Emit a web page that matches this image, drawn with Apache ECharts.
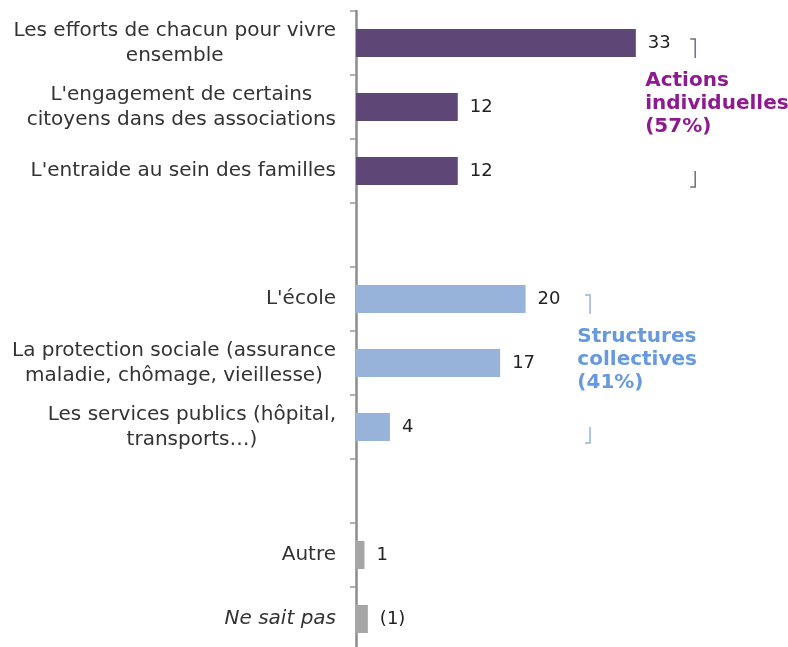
<!DOCTYPE html>
<html>
<head>
<meta charset="utf-8">
<script src="https://cdn.jsdelivr.net/npm/echarts@6/dist/echarts.min.js"></script>
<style>
  html, body { margin: 0; padding: 0; background: #fff; }
  #chart { width: 788px; height: 647px; }
</style>
</head>
<body>
<div id="chart"></div>
<script>
// categories, top to bottom ('' = empty row between groups)
var categories = [
    "Les efforts de chacun pour vivre\nensemble",
    "L'engagement de certains\ncitoyens dans des associations",
    "L'entraide au sein des familles",
    "",
    "L'école",
    "La protection sociale (assurance\nmaladie, chômage, vieillesse)",
    "Les services publics (hôpital,\ntransports…)",
    "",
    "Autre",
    "Ne sait pas"
];
var values = [33, 12, 12, null, 20, 17, 4, null, 1, 1.4];
var valueLabels = ['33', '12', '12', '', '20', '17', '4', '', '1', '(1)'];
var groupOf = ['indiv', 'indiv', 'indiv', null, 'coll', 'coll', 'coll', null, 'other', 'other'];

var barColors = { indiv: '#5e4677', coll: '#97b3d9', other: '#a6a6a6' };

// accolades de droite
var groups = [
    { text: 'Actions\nindividuelles\n(57%)', color: '#8e1b8e', bracket: '#75688a', first: 0, last: 2, xText: 34.1, xBracket: 40 },
    { text: 'Structures\ncollectives\n(41%)', color: '#6699dd', bracket: '#9ab4d8', first: 4, last: 6, xText: 26.1, xBracket: 27.6 }
];

var myChart = echarts.init(document.getElementById('chart'));
var FONT = 'DejaVu Sans';

var option = {
    animation: false,
    grid: { left: 356, top: 11, width: 424, height: 640, outerBoundsMode: 'none', containLabel: false },
    xAxis: { type: 'value', min: 0, max: 50, show: false },
    yAxis: {
        type: 'category',
        inverse: true,
        data: categories,
        axisLine: { lineStyle: { color: '#8c8c8c', width: 2.5 } },
        axisTick: { show: true, length: 6, interval: 0, lineStyle: { color: '#999', width: 1.5 } },
        axisLabel: {
            interval: 0,
            align: 'right',
            margin: 20,
            formatter: function (v) {
                if (!v) return '';
                var st = v === 'Ne sait pas' ? 'i' : 'c';
                return v.split('\n').map(function (l) { return '{' + st + '|' + l + '}'; }).join('\n');
            },
            rich: {
                c: { align: 'center', fontFamily: FONT, fontSize: 20, lineHeight: 25, color: '#333' },
                i: { align: 'center', fontFamily: FONT, fontSize: 20, lineHeight: 25, color: '#333', fontStyle: 'italic' }
            }
        }
    },
    series: [{
        type: 'bar',
        barWidth: 28,
        data: values.map(function (v, i) {
            return { value: v, itemStyle: { color: groupOf[i] ? barColors[groupOf[i]] : '#fff' } };
        }),
        label: {
            show: true,
            position: 'right',
            distance: 12,
            fontFamily: FONT,
            fontSize: 18,
            color: '#222',
            formatter: function (p) { return valueLabels[p.dataIndex]; }
        }
    }]
};
myChart.setOption(option);

// crochets + textes des groupes
function drawGroups() {
    var els = [];
    groups.forEach(function (g) {
        var cTop = myChart.convertToPixel({ yAxisIndex: 0 }, g.first);
        var cBot = myChart.convertToPixel({ yAxisIndex: 0 }, g.last);
        var cMid = (cTop + cBot) / 2;
        var xb = myChart.convertToPixel({ xAxisIndex: 0 }, g.xBracket);
        var xt = myChart.convertToPixel({ xAxisIndex: 0 }, g.xText);
        var ls = { stroke: g.bracket, lineWidth: 1.5, fill: null };
        els.push({ type: 'polyline', shape: { points: [[xb - 5, cTop - 4], [xb, cTop - 4], [xb, cTop + 15]] }, style: ls });
        els.push({ type: 'polyline', shape: { points: [[xb, cBot], [xb, cBot + 16], [xb - 5, cBot + 16]] }, style: ls });
        els.push({
            type: 'text', x: xt, y: cMid - 3,
            style: {
                text: g.text, fill: g.color, fontFamily: FONT, fontWeight: 'bold', fontSize: 20,
                lineHeight: 23, align: 'left', verticalAlign: 'middle'
            }
        });
    });
    myChart.setOption({ graphic: els });
}
drawGroups();

window.addEventListener('resize', function () {
    myChart.resize();
    drawGroups();
});
</script>
</body>
</html>
